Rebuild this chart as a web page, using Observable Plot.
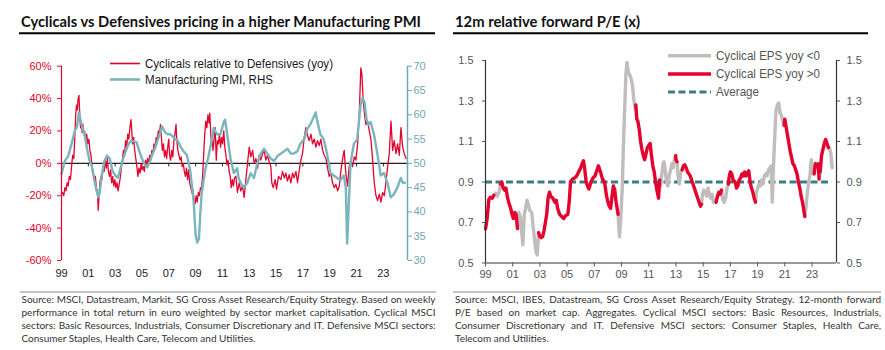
<!DOCTYPE html>
<html><head><meta charset="utf-8">
<script src="https://cdn.jsdelivr.net/npm/d3@7"></script>
<script src="https://cdn.jsdelivr.net/npm/@observablehq/plot@0.6"></script>
<style>
body{margin:0;background:#fff;}
#wrap{position:relative;width:885px;height:350px;overflow:hidden;font-family:"Liberation Sans",Arial,sans-serif;}
.chart{position:absolute;top:0;}
#overlay{position:absolute;left:0;top:0;}
.foot{position:absolute;top:292.5px;font-family:Lato,"Open Sans",sans-serif;font-size:10px;line-height:13px;color:#333;}
.foot div{text-align:justify;text-align-last:justify;}
.foot div.last{text-align-last:left;}
</style></head>
<body>
<div id="wrap">
  <div id="left" class="chart" style="left:0px"></div>
  <div id="right" class="chart" style="left:440px"></div>
  <svg id="overlay" width="885" height="350"></svg>
  <div class="foot" style="left:21.5px;width:414px" id="footL"></div>
  <div class="foot" style="left:455px;width:426px" id="footR"></div>
</div>
<script>
// ---------------- DATA ----------------
const leftTitle = "Cyclicals vs Defensives pricing in a higher Manufacturing PMI";
const rightTitle = "12m relative forward P/E (x)";
const leftSeriesNames = ["Cyclicals relative to Defensives (yoy)", "Manufacturing PMI, RHS"];
const rightSeriesNames = ["Cyclical EPS yoy <0", "Cyclical EPS yoy >0", "Average"];
const tickYears = [1999, 2001, 2003, 2005, 2007, 2009, 2011, 2013, 2015, 2017, 2019, 2021, 2023];
const tickLabels = ["99", "01", "03", "05", "07", "09", "11", "13", "15", "17", "19", "21", "23"];
const xDomain = [1999, 2024.8];
const pctTicks = [-60, -40, -20, 0, 20, 40, 60];
const pmiTicks = [30, 35, 40, 45, 50, 55, 60, 65, 70];
const peTicks = [0.5, 0.7, 0.9, 1.1, 1.3, 1.5];
const averagePE = 0.9;
const leftFootnote = [
  "Source: MSCI, Datastream, Markit, SG Cross Asset Research/Equity Strategy. Based on weekly",
  "performance in total return in euro weighted by sector market capitalisation. Cyclical MSCI",
  "sectors: Basic Resources, Industrials, Consumer Discretionary and IT. Defensive MSCI sectors:",
  "Consumer Staples, Health Care, Telecom and Utilities."
];
const rightFootnote = [
  "Source: MSCI, IBES, Datastream, SG Cross Asset Research/Equity Strategy. 12-month forward",
  "P/E based on market cap. Aggregates. Cyclical MSCI sectors: Basic Resources, Industrials,",
  "Consumer Discretionary and IT. Defensive MSCI sectors: Consumer Staples, Health Care,",
  "Telecom and Utilities."
];

// Cyclicals relative to Defensives, yoy % [year, value]
const cyclicalsVsDefensives = [
[1999.00,-19],[1999.08,-18],[1999.17,-20],[1999.25,-15],[1999.33,-17],[1999.42,-12],[1999.50,-14],[1999.58,-8],[1999.67,-10],[1999.75,-2],[1999.83,5],[1999.92,3],
[2000.00,18],[2000.06,30],[2000.12,36],[2000.18,33],[2000.24,40],[2000.30,42],[2000.36,30],[2000.42,22],[2000.48,26],[2000.54,19],[2000.60,24],[2000.66,18],[2000.72,20],[2000.80,14],[2000.88,18],[2000.96,12],
[2001.04,15],[2001.12,8],[2001.20,5],[2001.28,-2],[2001.36,-5],[2001.44,-10],[2001.52,-8],[2001.60,-15],[2001.68,-18],[2001.74,-29],[2001.80,-20],[2001.86,-12],[2001.94,-8],
[2002.02,-10],[2002.10,-2],[2002.18,-5],[2002.26,2],[2002.34,-3],[2002.42,3],[2002.50,-5],[2002.58,-8],[2002.66,-4],[2002.74,-12],[2002.82,-8],[2002.90,-14],[2002.98,-10],
[2003.06,-15],[2003.14,-12],[2003.22,-17],[2003.30,-13],[2003.38,-9],[2003.46,-3],[2003.54,2],[2003.62,8],[2003.70,5],[2003.78,14],[2003.86,10],[2003.94,18],
[2004.02,15],[2004.10,22],[2004.18,27],[2004.24,20],[2004.30,12],[2004.38,16],[2004.46,8],[2004.54,3],[2004.62,-2],[2004.70,-8],[2004.78,-3],[2004.86,-6],[2004.94,0],
[2005.02,-4],[2005.10,-2],[2005.18,-5],[2005.26,2],[2005.34,-1],[2005.42,3],[2005.50,0],[2005.58,5],[2005.66,2],[2005.74,8],[2005.82,6],[2005.90,12],[2005.98,9],
[2006.06,16],[2006.14,14],[2006.22,20],[2006.30,18],[2006.38,24],[2006.46,15],[2006.52,8],[2006.60,12],[2006.68,4],[2006.76,8],[2006.84,3],[2006.92,10],
[2007.00,15],[2007.06,5],[2007.14,2],[2007.22,8],[2007.30,4],[2007.38,14],[2007.46,18],[2007.54,24],[2007.60,14],[2007.68,8],[2007.76,5],[2007.84,2],[2007.92,4],
[2008.00,-2],[2008.08,0],[2008.16,-5],[2008.24,-8],[2008.32,-3],[2008.40,-10],[2008.48,-4],[2008.56,-12],[2008.64,-15],[2008.72,-18],[2008.80,-16],[2008.88,-22],[2008.96,-25],
[2009.04,-20],[2009.12,-24],[2009.20,-18],[2009.28,-20],[2009.36,-15],[2009.44,-16],[2009.52,-8],[2009.60,5],[2009.68,18],[2009.76,26],[2009.84,22],[2009.92,30],
[2010.00,25],[2010.06,31],[2010.12,20],[2010.18,12],[2010.24,16],[2010.30,8],[2010.38,15],[2010.46,22],[2010.54,2],[2010.62,14],[2010.70,12],[2010.78,18],[2010.86,10],[2010.94,16],
[2011.02,12],[2011.10,20],[2011.18,10],[2011.26,5],[2011.34,-1],[2011.42,2],[2011.50,-5],[2011.58,-8],[2011.66,-15],[2011.74,-10],[2011.82,-14],[2011.90,-9],
[2012.00,-8],[2012.12,-18],[2012.25,-12],[2012.37,-17],[2012.50,-14],[2012.62,-21],[2012.75,-10],[2012.87,0],
[2013.00,10],[2013.12,4],[2013.25,8],[2013.37,0],[2013.50,3],[2013.62,-3],[2013.74,5],[2013.86,2],[2013.99,6],
[2014.11,8],[2014.24,2],[2014.36,5],[2014.49,1],[2014.61,-2],[2014.68,-12],[2014.78,-15],[2014.93,-10],
[2015.03,-16],[2015.18,-8],[2015.36,-10],[2015.48,-5],[2015.61,-9],[2015.73,-6],[2015.85,-11],[2015.98,-7],
[2016.10,-12],[2016.23,-6],[2016.35,-9],[2016.48,-5],[2016.60,-12],[2016.73,-4],[2016.85,2],[2016.97,6],
[2017.10,16],[2017.22,22],[2017.35,17],[2017.47,14],[2017.60,18],[2017.72,12],[2017.84,15],[2017.97,10],
[2018.09,14],[2018.22,11],[2018.34,15],[2018.47,8],[2018.59,5],[2018.72,3],[2018.84,-3],[2018.96,-8],
[2019.09,-6],[2019.21,-12],[2019.34,-15],[2019.46,-13],[2019.59,-17],[2019.71,-14],[2019.83,-5],[2019.96,3],
[2020.08,8],[2020.20,-6],[2020.33,-14],[2020.45,-2],[2020.58,2],[2020.70,-2],[2020.83,4],[2020.95,2],
[2021.08,12],[2021.20,30],[2021.32,59],[2021.40,55],[2021.50,38],[2021.60,30],[2021.70,24],[2021.82,26],[2021.95,20],
[2022.07,15],[2022.20,2],[2022.32,-12],[2022.45,-20],[2022.57,-23],[2022.70,-19],[2022.82,-24],[2022.94,-18],
[2023.07,-20],[2023.19,-12],[2023.32,-2],[2023.44,6],[2023.57,26],[2023.69,8],[2023.81,14],[2023.94,6],
[2024.06,12],[2024.19,5],[2024.31,22],[2024.44,10],[2024.56,6],[2024.69,3]
];

// Manufacturing PMI (RHS) [year, index]
const manufacturingPMI = [
[1999.00,47.8],[1999.25,50.5],[1999.50,51.5],[1999.75,54],[2000.00,56.7],[2000.15,57.5],[2000.30,60.5],[2000.45,58.5],[2000.60,57],[2000.75,55.5],[2000.90,53],
[2001.10,50.5],[2001.25,49.5],[2001.45,46.5],[2001.60,44.5],[2001.75,43],[2001.85,44],[2002.00,47.5],[2002.20,50.5],[2002.40,51.6],[2002.60,51],[2002.80,48.5],
[2003.00,47.5],[2003.20,47],[2003.40,49],[2003.60,51],[2003.80,52.6],[2004.00,54],[2004.20,54.7],[2004.40,54.5],[2004.60,54.3],[2004.80,52.5],
[2005.00,51],[2005.15,50],[2005.40,49.2],[2005.60,50.5],[2005.80,52],[2006.00,53.3],[2006.20,55],[2006.40,56.7],[2006.50,57.6],[2006.70,56.5],[2006.90,56],
[2007.10,56],[2007.30,55.5],[2007.50,55],[2007.70,54.5],[2007.90,53.3],[2008.10,52.5],[2008.35,51.7],[2008.60,48.5],[2008.85,42.3],
[2009.00,35.3],[2009.12,33.7],[2009.25,34.5],[2009.35,39.7],[2009.45,43.7],[2009.70,48.5],[2009.95,51.3],[2010.20,54.7],[2010.35,57.3],[2010.60,56],[2010.85,56],
[2011.10,58.5],[2011.20,59],[2011.35,56],[2011.60,51],[2011.85,48],[2012.10,49],[2012.20,47],[2012.35,46],[2012.60,45],[2012.85,46],
[2013.10,48],[2013.35,47],[2013.60,50],[2013.85,52],[2014.10,53],[2014.35,52],[2014.60,51],[2014.85,50.5],
[2015.10,51.5],[2015.35,52],[2015.60,52.5],[2015.85,53],[2016.10,52],[2016.30,52],[2016.60,52.5],[2016.80,54],
[2017.10,55],[2017.30,57],[2017.55,58],[2017.80,59.5],[2017.95,60.5],[2018.05,59],[2018.30,56],[2018.55,55],[2018.80,52],
[2019.05,48],[2019.30,47.5],[2019.55,47],[2019.80,46.5],[2020.05,47.5],[2020.20,45],[2020.30,33.5],[2020.40,40],[2020.55,50],[2020.80,54],
[2021.05,55],[2021.30,62],[2021.45,63.5],[2021.60,62.5],[2021.75,59],[2021.90,58],[2022.05,58.5],[2022.30,56],[2022.55,52],[2022.80,47.5],
[2023.05,48],[2023.30,46],[2023.55,43],[2023.75,43.5],[2024.05,45],[2024.30,47],[2024.45,46],[2024.60,46]
];

// 12m relative forward P/E [year, value, cyclical EPS yoy >0 ? 1 : 0]
const relativePE = [
[1999.00,0.668,1],[1999.12,0.72,1],[1999.25,0.816,1],[1999.37,0.825,1],[1999.50,0.82,1],[1999.62,0.835,1],
[1999.75,0.845,0],[1999.87,0.83,0],[2000.00,0.85,0],[2000.10,0.89,0],
[2000.20,0.90,1],[2000.30,0.87,1],[2000.40,0.86,1],[2000.50,0.87,1],[2000.60,0.83,1],[2000.70,0.80,1],[2000.85,0.77,1],[2000.95,0.74,1],[2001.05,0.72,1],[2001.15,0.75,1],[2001.25,0.74,1],[2001.35,0.67,1],
[2001.45,0.75,0],[2001.55,0.73,0],[2001.65,0.66,0],[2001.75,0.59,0],[2001.85,0.74,0],[2001.95,0.77,0],[2002.05,0.81,0],[2002.15,0.79,0],[2002.25,0.76,0],[2002.40,0.75,0],[2002.50,0.68,0],[2002.60,0.62,0],[2002.70,0.56,0],[2002.80,0.54,0],[2002.90,0.65,0],
[2003.00,0.63,1],[2003.10,0.625,1],[2003.20,0.63,1],[2003.30,0.66,1],[2003.40,0.70,1],[2003.50,0.74,1],[2003.60,0.82,1],[2003.70,0.85,1],[2003.80,0.83,1],[2003.95,0.82,1],
[2004.10,0.80,1],[2004.20,0.81,1],[2004.30,0.77,1],[2004.45,0.74,1],[2004.60,0.73,1],[2004.75,0.72,1],[2004.90,0.735,1],[2005.05,0.74,1],[2005.15,0.80,1],[2005.25,0.90,1],
[2005.40,0.915,1],[2005.55,0.92,1],[2005.70,0.93,1],[2005.85,0.95,1],[2006.00,0.97,1],[2006.10,0.99,1],[2006.20,1.005,1],[2006.30,0.96,1],[2006.40,0.90,1],[2006.50,0.88,1],
[2006.60,0.865,1],[2006.75,0.90,1],[2006.90,0.92,1],[2007.05,0.93,1],[2007.20,0.96,1],[2007.30,0.98,1],[2007.45,0.95,1],[2007.60,0.915,1],[2007.75,0.90,1],[2007.90,0.83,1],
[2008.00,0.80,1],[2008.10,0.78,1],[2008.20,0.77,1],[2008.30,0.83,1],[2008.40,0.88,1],[2008.50,0.86,1],[2008.60,0.80,1],[2008.70,0.76,1],[2008.75,0.74,1],
[2008.78,0.70,0],[2008.85,0.63,0],[2008.95,0.73,0],[2009.05,0.87,0],[2009.15,1.11,0],[2009.25,1.30,0],[2009.32,1.43,0],[2009.40,1.49,0],[2009.50,1.44,0],[2009.60,1.43,0],[2009.70,1.41,0],[2009.80,1.38,0],[2009.90,1.31,0],[2010.00,1.26,0],[2010.05,1.28,0],
[2010.12,1.21,1],[2010.20,1.20,1],[2010.30,1.16,1],[2010.40,1.10,1],[2010.50,1.06,1],[2010.60,1.03,1],[2010.70,1.01,1],[2010.80,1.04,1],[2010.90,1.07,1],[2011.00,1.08,1],[2011.10,1.09,1],
[2011.20,1.03,1],[2011.30,0.98,1],[2011.40,0.95,1],[2011.50,0.90,1],[2011.60,0.86,1],[2011.72,0.82,1],[2011.80,0.91,1],
[2011.88,0.88,0],[2011.95,0.93,0],[2012.05,0.99,0],[2012.12,1.00,0],[2012.20,0.97,0],[2012.30,0.90,0],[2012.40,0.88,0],[2012.50,0.93,0],[2012.60,0.96,0],[2012.70,0.99,0],[2012.80,0.97,0],[2012.90,1.02,0],[2012.98,1.03,0],
[2013.00,1.01,1],[2013.08,1.00,1],
[2013.15,0.93,0],[2013.25,0.89,0],[2013.35,0.95,0],[2013.45,0.96,0],
[2013.55,0.98,1],[2013.65,0.985,1],[2013.75,0.97,1],[2013.85,0.95,1],[2013.95,0.94,1],[2014.05,0.93,1],[2014.20,0.90,1],[2014.30,0.88,1],[2014.45,0.85,1],[2014.60,0.82,1],[2014.70,0.80,1],[2014.80,0.78,1],[2014.88,0.79,1],
[2014.95,0.84,0],[2015.05,0.86,0],[2015.15,0.85,0],[2015.25,0.83,0],[2015.35,0.87,0],[2015.45,0.84,0],[2015.55,0.82,0],[2015.65,0.84,0],[2015.75,0.80,0],[2015.85,0.81,0],[2015.95,0.80,0],
[2016.05,0.83,1],[2016.15,0.85,1],[2016.25,0.84,1],[2016.35,0.86,1],
[2016.45,0.81,0],[2016.55,0.80,0],[2016.65,0.82,0],[2016.75,0.87,0],[2016.85,0.89,0],
[2016.92,0.93,1],[2017.00,0.95,1],[2017.10,0.94,1],[2017.20,0.91,1],[2017.35,0.90,1],[2017.45,0.87,1],[2017.55,0.88,1],[2017.65,0.91,1],[2017.75,0.92,1],[2017.85,0.94,1],[2017.95,0.93,1],
[2018.05,0.95,1],[2018.15,0.93,1],[2018.25,0.945,1],[2018.35,0.955,1],[2018.45,0.90,1],[2018.55,0.87,1],[2018.65,0.85,1],[2018.75,0.82,1],[2018.85,0.80,1],
[2018.92,0.85,0],[2019.00,0.87,0],[2019.10,0.89,0],[2019.20,0.88,0],[2019.30,0.91,0],[2019.40,0.89,0],[2019.50,0.93,0],[2019.60,0.94,0],[2019.70,0.93,0],[2019.80,0.96,0],[2019.90,0.97,0],[2020.00,0.98,0],
[2020.08,0.80,0],[2020.15,0.95,0],[2020.25,1.11,0],[2020.35,1.25,0],[2020.45,1.28,0],[2020.55,1.29,0],[2020.65,1.24,0],[2020.75,1.23,0],[2020.85,1.20,0],[2020.95,1.18,0],
[2021.00,1.21,1],[2021.10,1.17,1],[2021.20,1.13,1],[2021.30,1.09,1],[2021.40,1.05,1],[2021.50,1.02,1],[2021.60,0.99,1],[2021.70,0.98,1],[2021.80,0.96,1],[2021.90,0.94,1],
[2022.00,0.90,1],[2022.10,0.87,1],[2022.20,0.83,1],[2022.30,0.80,1],[2022.40,0.76,1],[2022.47,0.73,1],
[2022.55,0.77,0],[2022.65,0.84,0],[2022.75,0.90,0],[2022.85,0.93,0],[2022.95,1.01,0],[2023.05,0.96,0],[2023.15,0.94,0],
[2023.25,0.99,1],[2023.35,0.98,1],[2023.45,0.99,1],[2023.52,0.915,1],
[2023.60,0.95,0],
[2023.70,1.03,1],[2023.80,1.06,1],[2023.90,1.09,1],[2024.00,1.11,1],[2024.10,1.09,1],[2024.20,1.07,1],
[2024.28,1.07,0],[2024.38,1.04,0],[2024.48,0.97,0]
];

// ---------------- STYLE ----------------
const RED = "#e4032e", BLUE = "#7ab5bd", BLUE_AX = "#6ea9b1", GRAY = "#c1bdbd", TEAL = "#3c7d84", AXGRAY = "#555";
const fmtYear = d => tickLabels[tickYears.indexOf(d)];
const fontStyle = {fontFamily: "'Liberation Sans', Arial, sans-serif", fontSize: "11px", background: "transparent", overflow: "visible"};

// ---------------- LEFT CHART ----------------
const cyc = cyclicalsVsDefensives.map(([t, v]) => ({t, v}));
const pmi = manufacturingPMI.map(([t, v]) => ({t, v: (v - 50) * 3}));
const leftPlot = Plot.plot({
  width: 440, height: 290,
  marginLeft: 61, marginRight: 33, marginTop: 65.7, marginBottom: 30,
  style: fontStyle,
  x: {domain: xDomain, label: null},
  y: {domain: [-60, 60], label: null},
  marks: [
    Plot.ruleY([0], {stroke: "#222", strokeWidth: 1.3}),
    Plot.ruleX(tickYears, {y1: 0, y2: -2.2, stroke: "#222", strokeWidth: 1}),
    Plot.line(cyc, {x: "t", y: "v", stroke: RED, strokeWidth: 1.3, strokeLinejoin: "round"}),
    Plot.line(pmi, {x: "t", y: "v", stroke: BLUE, strokeWidth: 2.4, strokeLinejoin: "round"}),
    Plot.ruleX([xDomain[0]], {stroke: RED, strokeWidth: 1.2}),
    Plot.ruleX([xDomain[1]], {stroke: BLUE_AX, strokeWidth: 1.5}),
    Plot.axisY(pctTicks, {anchor: "left", tickSize: 4, tickPadding: 6, color: RED, tickFormat: d => `${d}%`, label: null, fontSize: 11}),
    Plot.axisY(pmiTicks.map(v => (v - 50) * 3), {anchor: "right", tickSize: 4, tickPadding: 2, color: BLUE_AX, tickFormat: d => String(Math.round(d / 3 + 50)), label: null, fontSize: 11}),
    Plot.axisX(tickYears, {anchor: "bottom", tickSize: 0, tickPadding: 9, color: "#222", tickFormat: fmtYear, label: null, fontSize: 11})
  ]
});
document.getElementById("left").appendChild(leftPlot);

// ---------------- RIGHT CHART ----------------
const peRows = [];
let seg = 0;
relativePE.forEach(([t, v, f], i) => {
  if (i > 0 && f !== relativePE[i - 1][2]) {
    seg++;
    const p = relativePE[i - 1];
    peRows.push({t: p[0], v: p[1], pos: f, seg});
  }
  peRows.push({t, v, pos: f, seg});
});
const peStart = relativePE[0][0], peEnd = relativePE[relativePE.length - 1][0];
const rightPlot = Plot.plot({
  width: 445, height: 290,
  marginLeft: 45, marginRight: 49, marginTop: 60, marginBottom: 27.5,
  style: fontStyle,
  x: {domain: xDomain, label: null},
  y: {domain: [0.5, 1.5], label: null},
  marks: [
    Plot.ruleY([averagePE], {x1: peStart, x2: peEnd, stroke: TEAL, strokeWidth: 3, strokeDasharray: "7,3.5"}),
    Plot.line(peRows.filter(d => !d.pos), {x: "t", y: "v", z: "seg", stroke: GRAY, strokeWidth: 3.4, strokeLinejoin: "round"}),
    Plot.line(peRows.filter(d => d.pos), {x: "t", y: "v", z: "seg", stroke: RED, strokeWidth: 3.4, strokeLinejoin: "round"}),
    Plot.ruleX([xDomain[0]], {stroke: "#333", strokeWidth: 1.2}),
    Plot.ruleX([xDomain[1]], {stroke: "#333", strokeWidth: 1.2}),
    Plot.ruleY([0.5], {stroke: "#333", strokeWidth: 1.2}),
    Plot.axisY(peTicks, {anchor: "left", tickSize: 3, tickPadding: 9, color: AXGRAY, tickFormat: d => d.toFixed(1), label: null, fontSize: 11}),
    Plot.axisY(peTicks, {anchor: "right", tickSize: 3, tickPadding: 7, color: AXGRAY, tickFormat: d => d.toFixed(1), label: null, fontSize: 11}),
    Plot.axisX(tickYears, {anchor: "bottom", tickSize: 4, tickPadding: 3, color: AXGRAY, tickFormat: fmtYear, label: null, fontSize: 11})
  ]
});
document.getElementById("right").appendChild(rightPlot);

// ---------------- TITLES, LEGENDS ----------------
const ov = d3.select("#overlay");
function title(x, y, txt, len) {
  ov.append("text").attr("x", x).attr("y", y).attr("textLength", len).attr("lengthAdjust", "spacingAndGlyphs")
    .style("font-family", "Lato, 'Open Sans', sans-serif").style("font-weight", "bold").style("font-size", "15.5px").style("fill", "#111").text(txt);
}
title(21, 27, leftTitle, 400);
title(455, 27, rightTitle, 185);
ov.append("line").attr("x1", 19).attr("x2", 435).attr("y1", 33.3).attr("y2", 33.3).attr("stroke", "#000").attr("stroke-width", 2);
ov.append("line").attr("x1", 453).attr("x2", 868).attr("y1", 33.3).attr("y2", 33.3).attr("stroke", "#000").attr("stroke-width", 2);
ov.append("line").attr("x1", 20).attr("x2", 436).attr("y1", 292).attr("y2", 292).attr("stroke", "#888").attr("stroke-width", 1);
ov.append("line").attr("x1", 453).attr("x2", 881).attr("y1", 292).attr("y2", 292).attr("stroke", "#888").attr("stroke-width", 1);

function legendItem(x1, x2, y, color, w, dash, txt, len, tcolor) {
  const l = ov.append("line").attr("x1", x1).attr("x2", x2).attr("y1", y).attr("y2", y).attr("stroke", color).attr("stroke-width", w);
  if (dash) l.attr("stroke-dasharray", dash);
  ov.append("text").attr("x", x2 + 5).attr("y", y).attr("dy", "0.36em").attr("textLength", len).attr("lengthAdjust", "spacingAndGlyphs")
    .style("font-family", "'Liberation Sans', Arial, sans-serif").style("font-size", "12px").style("fill", tcolor).text(txt);
}
legendItem(110, 140, 63.5, RED, 1.6, null, leftSeriesNames[0], 188, "#1a1a1a");
legendItem(110, 140, 79.5, BLUE, 2.6, null, leftSeriesNames[1], 128, "#1a1a1a");
legendItem(668, 711, 55.7, GRAY, 3.5, null, rightSeriesNames[0], 104, "#555");
legendItem(668, 711, 74, RED, 3.5, null, rightSeriesNames[1], 104, "#555");
legendItem(668, 711, 92, TEAL, 3, "7,3.5", rightSeriesNames[2], 43, "#555");

// ---------------- FOOTNOTES ----------------
function foot(id, lines) {
  const el = document.getElementById(id);
  lines.forEach((s, i) => {
    const d = document.createElement("div");
    d.textContent = s;
    if (i === lines.length - 1) d.className = "last";
    el.appendChild(d);
  });
}
foot("footL", leftFootnote);
foot("footR", rightFootnote);
</script>
</body></html>
